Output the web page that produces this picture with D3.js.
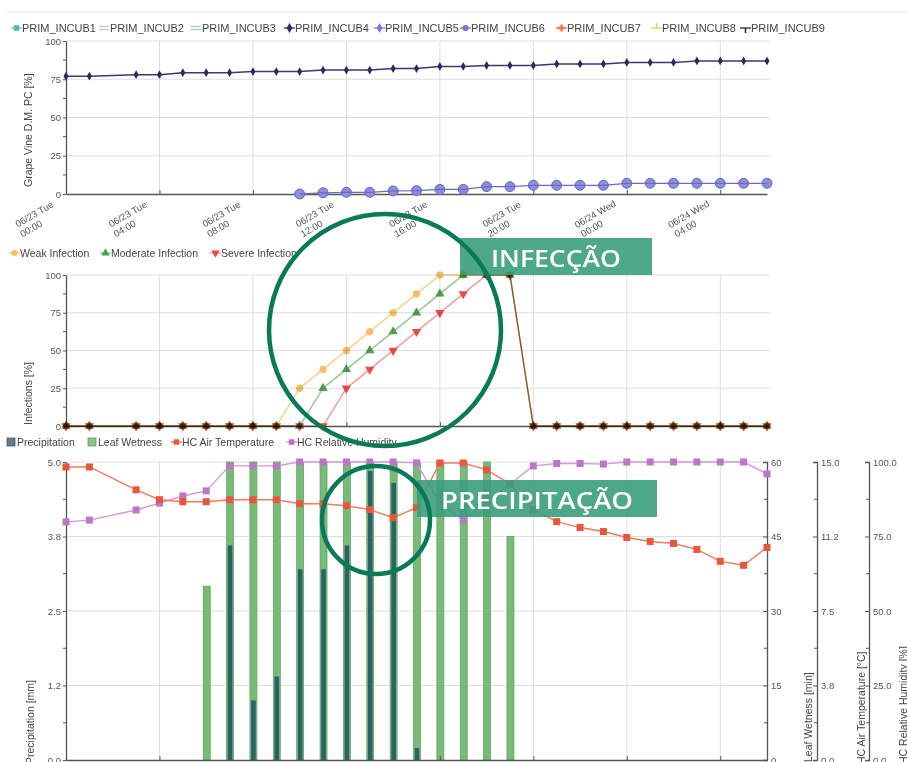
<!DOCTYPE html>
<html>
<head>
<meta charset="utf-8">
<script src="https://cdn.jsdelivr.net/npm/d3@7"></script>
<style>
  body { margin: 0; background: #fff; }
  svg text { font-family: "Liberation Sans", Arial, sans-serif; }
</style>
</head>
<body>
<svg id="chart" width="907" height="762"></svg>
<script>
// hours since 06/23 00:00 (no record at hour 2)
const hours = [0, 1, 3, 4, 5, 6, 7, 8, 9, 10, 11, 12, 13, 14, 15, 16, 17, 18, 19, 20, 21, 22, 23, 24, 25, 26, 27, 28, 29, 30];
const tickHours = [0, 4, 8, 12, 16, 20, 24, 28];
const tickDays = ["06/23 Tue", "06/23 Tue", "06/23 Tue", "06/23 Tue", "06/23 Tue", "06/23 Tue", "06/24 Wed", "06/24 Wed"];
const tickTimes = ["00:00", "04:00", "08:00", "12:00", "16:00", "20:00", "00:00", "04:00"];

// top panel
const incubNames = ["PRIM_INCUB1", "PRIM_INCUB2", "PRIM_INCUB3", "PRIM_INCUB4", "PRIM_INCUB5", "PRIM_INCUB6", "PRIM_INCUB7", "PRIM_INCUB8", "PRIM_INCUB9"];
const incub4 = [77, 77, 78, 78, 79.3, 79.3, 79.3, 80, 80, 80, 81, 81, 81, 82, 82, 83.4, 83.4, 84, 84, 84, 85, 85, 85, 86, 86, 86, 87, 87, 87, 87];
const incub6Hours = [10, 11, 12, 13, 14, 15, 16, 17, 18, 19, 20, 21, 22, 23, 24, 25, 26, 27, 28, 29, 30];
const incub6 = [0, 0.8, 1.1, 1.1, 2, 2.2, 3, 3, 4.8, 4.8, 5.7, 5.7, 5.7, 5.7, 7, 7, 7, 7, 7, 7, 7];
const pctTicks = [0, 25, 50, 75, 100];

// middle panel
const infectionNames = ["Weak Infection", "Moderate Infection", "Severe Infection"];
const weakInfection = [0, 0, 0, 0, 0, 0, 0, 0, 0, 25, 37.5, 50, 62.5, 75, 87.5, 100, 100, 100, 100, 0, 0, 0, 0, 0, 0, 0, 0, 0, 0, 0];
const moderateInfection = [0, 0, 0, 0, 0, 0, 0, 0, 0, 0, 25, 37.5, 50, 62.5, 75, 87.5, 100, 100, 100, 0, 0, 0, 0, 0, 0, 0, 0, 0, 0, 0];
const severeInfection = [0, 0, 0, 0, 0, 0, 0, 0, 0, 0, 0, 25, 37.5, 50, 62.5, 75, 87.5, 100, 100, 0, 0, 0, 0, 0, 0, 0, 0, 0, 0, 0];

// bottom panel
const weatherNames = ["Precipitation", "Leaf Wetness", "HC Air Temperature", "HC Relative Humidity"];
const barHours = [6, 7, 8, 9, 10, 11, 12, 13, 14, 15, 16, 17, 18, 19];
const leafWetness = [35, 60, 60, 60, 60, 60, 60, 60, 60, 60, 60, 60, 60, 45];
const precipitation = [0, 3.6, 1.0, 1.4, 3.2, 3.2, 3.6, 4.85, 4.65, 0.2, 0, 0, 0, 0];
const airTemperature = [14.75, 14.75, 13.6, 13.1, 13.0, 13.0, 13.1, 13.1, 13.1, 12.9, 12.9, 12.8, 12.6, 12.2, 12.7, 14.95, 14.95, 14.6, 13.9, 12.6, 12.0, 11.7, 11.5, 11.2, 11.0, 10.9, 10.6, 10.0, 9.8, 10.7];
const relHumidity = [79.9, 80.5, 83.9, 86.2, 88.6, 90.3, 98.7, 98.7, 98.7, 100, 100, 100, 100, 100, 99.7, 86, 80.5, 86.6, 92.6, 98.7, 99.5, 99.5, 99.3, 100, 100, 100, 100, 100, 100, 96];
const precipTicks = [0, 1.25, 2.5, 3.75, 5];
const precipLabels = ["0.0", "1.2", "2.5", "3.8", "5.0"];
const leafTicks = [0, 15, 30, 45, 60];
const tempTicks = [0, 3.75, 7.5, 11.25, 15];
const tempLabels = ["0.0", "3.8", "7.5", "11.2", "15.0"];
const rhTicks = [0, 25, 50, 75, 100];
const rhLabels = ["0.0", "25.0", "50.0", "75.0", "100.0"];

const FONT = "'Liberation Sans', Arial, sans-serif";
const AXIS = "#555";
const GRID = "#dedede";
const svg = d3.select("#chart");

const x = d3.scaleLinear().domain([0, 30]).range([66, 767]);
const yTop = d3.scaleLinear().domain([0, 100]).range([194, 41]);
const yMid = d3.scaleLinear().domain([0, 100]).range([426, 275]);
const yPrec = d3.scaleLinear().domain([0, 5]).range([760, 462]);
const yLeaf = d3.scaleLinear().domain([0, 60]).range([760, 462]);
const yTemp = d3.scaleLinear().domain([0, 15]).range([760, 462]);
const yRh = d3.scaleLinear().domain([0, 100]).range([760, 462]);

// window frame line
svg.append("line").attr("x1", 7).attr("x2", 907).attr("y1", 12).attr("y2", 12)
    .attr("stroke", "#e2e2e2");

// ---------- helpers ----------
function drawGrid(yScale, ticks) {
    const g = svg.append("g");
    const [b, t] = yScale.range();
    g.selectAll(null).data(ticks.slice(1)).enter().append("line")
        .attr("x1", x(0)).attr("x2", x(30) + 3)
        .attr("y1", d => yScale(d)).attr("y2", d => yScale(d))
        .attr("stroke", GRID);
    g.selectAll(null).data(tickHours.slice(1)).enter().append("line")
        .attr("x1", d => x(d)).attr("x2", d => x(d))
        .attr("y1", t).attr("y2", b)
        .attr("stroke", GRID);
}

function styleAxis(g) {
    g.attr("font-family", FONT).attr("font-size", 9.5);
    g.select(".domain").attr("stroke", AXIS).attr("stroke-width", 1.3);
    g.selectAll(".tick line").attr("stroke", AXIS);
    g.selectAll(".tick text").attr("fill", "#555");
}

function minorTicks(xPos, yScale, ticks, dir) {
    const mids = ticks.slice(1).map((t, i) => (t + ticks[i]) / 2);
    svg.append("g").selectAll("line").data(mids).enter().append("line")
        .attr("x1", xPos).attr("x2", xPos + dir * 3)
        .attr("y1", d => yScale(d)).attr("y2", d => yScale(d))
        .attr("stroke", AXIS);
}

function leftAxis(yScale, ticks, labels) {
    const g = svg.append("g").attr("transform", `translate(${x(0)},0)`)
        .call(d3.axisLeft(yScale).tickValues(ticks)
            .tickFormat((d, i) => labels ? labels[i] : d)
            .tickSize(3).tickSizeOuter(0).tickPadding(2));
    styleAxis(g);
    minorTicks(x(0), yScale, ticks, -1);
}

function rightAxis(xPos, yScale, ticks, labels) {
    const g = svg.append("g").attr("transform", `translate(${xPos},0)`)
        .call(d3.axisRight(yScale).tickValues(ticks)
            .tickFormat((d, i) => labels ? labels[i] : d)
            .tickSizeInner(-4).tickSizeOuter(-4).tickPadding(4));
    styleAxis(g);
    minorTicks(xPos, yScale, ticks, -1);
}

function bottomAxis(yPos) {
    const g = svg.append("g").attr("transform", `translate(0,${yPos})`)
        .call(d3.axisBottom(x).tickValues(tickHours).tickFormat("").tickSizeInner(-4).tickSizeOuter(0));
    styleAxis(g);
    return g;
}

function yTitle(text, xPos, yStart) {
    svg.append("text")
        .attr("transform", `translate(${xPos},${yStart}) rotate(-90)`)
        .attr("font-size", 10.5).attr("fill", "#444")
        .text(text);
}

function legendIcon(g, type, color, fill) {
    if (type === "bar") {
        g.append("rect").attr("x", 0).attr("y", -4).attr("width", 8).attr("height", 8)
            .attr("fill", fill).attr("stroke", color).attr("stroke-width", 0.8);
        return;
    }
    if (type === "double") {
        g.append("line").attr("x1", 0).attr("x2", 10).attr("y1", -1.5).attr("y2", -1.5).attr("stroke", color).attr("stroke-width", 1.2);
        g.append("line").attr("x1", 0).attr("x2", 10).attr("y1", 1.5).attr("y2", 1.5).attr("stroke", color).attr("stroke-width", 1.2);
        return;
    }
    g.append("line").attr("x1", 0).attr("x2", 11).attr("y1", 0).attr("y2", 0)
        .attr("stroke", color).attr("stroke-width", 1.3);
    if (type === "tick") {
        g.append("line").attr("x1", 5.5).attr("x2", 5.5).attr("y1", 0).attr("y2", -5).attr("stroke", color).attr("stroke-width", 1.3);
    } else if (type === "tee") {
        g.append("line").attr("x1", 5.5).attr("x2", 5.5).attr("y1", 0).attr("y2", 5).attr("stroke", color).attr("stroke-width", 1.5);
    } else if (type !== "none") {
        const sym = { circle: d3.symbolCircle, square: d3.symbolSquare, diamond: d3.symbolDiamond,
                      cross: d3.symbolCross, triangle: d3.symbolTriangle, down: d3.symbolTriangle }[type];
        g.append("path").attr("d", d3.symbol().type(sym).size(type === "cross" ? 28 : 30)())
            .attr("transform", `translate(5.5,0)${type === "down" ? " rotate(180)" : ""}`)
            .attr("fill", fill || color);
    }
}

function legend(names, xs, y, styles, fontSize) {
    names.forEach((name, i) => {
        const s = styles[i];
        const g = svg.append("g").attr("transform", `translate(${xs[i]},${y})`);
        legendIcon(g, s.type, s.color, s.fill);
        g.append("text").attr("x", s.type === "bar" ? 10 : 11).attr("dy", "0.35em")
            .attr("font-size", fontSize).attr("fill", "#444").text(name);
    });
}

// ---------- top panel ----------
legend(incubNames, [11, 99, 191, 284, 374, 460, 556, 651, 740], 28, [
    { type: "square", color: "#6fd0d0", fill: "#45bcbc" },
    { type: "double", color: "#b8ccb0" },
    { type: "double", color: "#a4cba4" },
    { type: "diamond", color: "#2e2e66" },
    { type: "diamond", color: "#7a7ad0" },
    { type: "circle", color: "#7676d8" },
    { type: "cross", color: "#ef7848" },
    { type: "tick", color: "#cbd85a" },
    { type: "tee", color: "#23233c" }
], 11);

drawGrid(yTop, pctTicks);
leftAxis(yTop, pctTicks);
bottomAxis(194);
yTitle("Grape Vine D.M. PC [%]", 32, 187);

tickHours.forEach((h, i) => {
    const g = svg.append("g")
        .attr("transform", `translate(${x(h) - 30},217) rotate(-30)`)
        .attr("font-size", 9.5).attr("fill", "#555").attr("text-anchor", "middle");
    g.append("text").attr("x", 0).attr("y", 0).text(tickDays[i]);
    g.append("text").attr("x", -10).attr("y", 11).text(tickTimes[i]);
});

const lineTop = d3.line().x(d => x(d[0])).y(d => yTop(d[1]));
const inc6 = incub6Hours.map((h, i) => [h, incub6[i]]);
svg.append("g").selectAll("circle").data(inc6).enter().append("circle")
    .attr("cx", d => x(d[0])).attr("cy", d => yTop(d[1])).attr("r", 5)
    .attr("fill", "#8d8ddc").attr("stroke", "#6868c4").attr("stroke-width", 1);
svg.append("path").datum(inc6).attr("d", lineTop)
    .attr("fill", "none").attr("stroke", "#6a6ac6").attr("stroke-width", 1.3);

const inc4 = hours.map((h, i) => [h, incub4[i]]);
svg.append("path").datum(inc4).attr("d", lineTop)
    .attr("fill", "none").attr("stroke", "#3a3a72").attr("stroke-width", 1.5);
svg.append("g").selectAll("path").data(inc4).enter().append("path")
    .attr("d", d3.symbol().type(d3.symbolDiamond).size(22)())
    .attr("transform", d => `translate(${x(d[0])},${yTop(d[1])})`)
    .attr("fill", "#2a2a5e");

// ---------- middle panel ----------
const infStyles = [
    { type: "circle", color: "#f7cc86", fill: "#f5bf62" },
    { type: "triangle", color: "#8cc68c", fill: "#4f9f4f" },
    { type: "down", color: "#f39494", fill: "#ec4a4a" }
];
legend(infectionNames, [9, 100, 210], 253, infStyles, 10.5);

drawGrid(yMid, pctTicks);
leftAxis(yMid, pctTicks);
bottomAxis(426);
yTitle("Infections [%]", 32, 425);

const lineMid = d3.line().x(d => x(d[0])).y(d => yMid(d[1]));
[weakInfection, moderateInfection, severeInfection].forEach((vals, k) => {
    const s = infStyles[k];
    const pts = hours.map((h, i) => [h, vals[i]]);
    const g = svg.append("g").style("mix-blend-mode", "multiply");
    g.append("path").datum(pts).attr("d", lineMid)
        .attr("fill", "none").attr("stroke", s.color).attr("stroke-width", 1.4);
    const sym = k === 0 ? d3.symbolCircle : d3.symbolTriangle;
    g.selectAll(null).data(pts).enter().append("path")
        .attr("d", d3.symbol().type(sym).size(k === 0 ? 42 : 38)())
        .attr("transform", d => `translate(${x(d[0])},${yMid(d[1])})${k === 2 ? " rotate(180)" : ""}`)
        .attr("fill", s.fill);
});

// ---------- bottom panel ----------
legend(weatherNames, [7, 88, 171, 286], 442, [
    { type: "bar", color: "#4a5c6a", fill: "#66798a" },
    { type: "bar", color: "#5a9e5a", fill: "#8cc48c" },
    { type: "square", color: "#f06a50", fill: "#e8553d" },
    { type: "square", color: "#d191d1", fill: "#b76fc0" }
], 10.5);

drawGrid(yPrec, precipTicks);

svg.append("g").selectAll("rect").data(barHours).enter().append("rect")
    .attr("x", d => x(d) - 3).attr("width", 7)
    .attr("y", (d, i) => yLeaf(leafWetness[i]))
    .attr("height", (d, i) => yLeaf(0) - yLeaf(leafWetness[i]))
    .attr("fill", "#78bb78").attr("stroke", "#5b9f5b").attr("stroke-width", 0.7);
svg.append("g").selectAll("rect").data(barHours).enter().append("rect")
    .attr("x", d => x(d) - 1.8).attr("width", 4.6)
    .attr("y", (d, i) => yPrec(precipitation[i]))
    .attr("height", (d, i) => yPrec(0) - yPrec(precipitation[i]))
    .attr("fill", "#2c6167");

leftAxis(yPrec, precipTicks, precipLabels);
rightAxis(767, yLeaf, leafTicks);
rightAxis(817, yTemp, tempTicks, tempLabels);
rightAxis(869, yRh, rhTicks, rhLabels);
bottomAxis(760);
yTitle("Precipitation [mm]", 34, 764);
yTitle("Leaf Wetness [min]", 812, 762);
yTitle("HC Air Temperature [°C]", 865, 764);
yTitle("HC Relative Humidity [%]", 907, 764);

function weatherLine(vals, yScale, lineColor, markColor) {
    const pts = hours.map((h, i) => [h, vals[i]]);
    svg.append("path").datum(pts)
        .attr("d", d3.line().x(d => x(d[0])).y(d => yScale(d[1])))
        .attr("fill", "none").attr("stroke", lineColor).attr("stroke-width", 1.4);
    svg.append("g").selectAll("rect").data(pts).enter().append("rect")
        .attr("x", d => x(d[0]) - 3.5).attr("y", d => yScale(d[1]) - 3.5)
        .attr("width", 7).attr("height", 7).attr("fill", markColor);
}
weatherLine(relHumidity, yRh, "#d597d5", "#bb78c2");
weatherLine(airTemperature, yTemp, "#f27a5e", "#e9553d");

// ---------- annotations ----------
const annot = svg.append("g");
function tag(text, rx, ry, rw, rh, len) {
    annot.append("rect").attr("x", rx).attr("y", ry).attr("width", rw).attr("height", rh)
        .attr("fill", "#3a9d7c").attr("opacity", 0.9);
    annot.append("text").attr("x", rx + rw / 2).attr("y", ry + 29)
        .attr("text-anchor", "middle").attr("fill", "#fff")
        .style("font-family", "'Open Sans', Lato, sans-serif")
        .attr("font-size", 24).attr("font-weight", 600)
        .attr("textLength", len).attr("lengthAdjust", "spacingAndGlyphs")
        .text(text);
}
tag("INFECÇÃO", 460, 238, 192, 37, 130);
tag("PRECIPITAÇÃO", 417, 480, 240, 37, 192);
annot.append("circle").attr("cx", 385).attr("cy", 330).attr("r", 116)
    .attr("fill", "none").attr("stroke", "#087a58").attr("stroke-width", 4.5);
annot.append("circle").attr("cx", 376).attr("cy", 520).attr("r", 54)
    .attr("fill", "none").attr("stroke", "#087a58").attr("stroke-width", 4.5);
</script>
</body>
</html>
